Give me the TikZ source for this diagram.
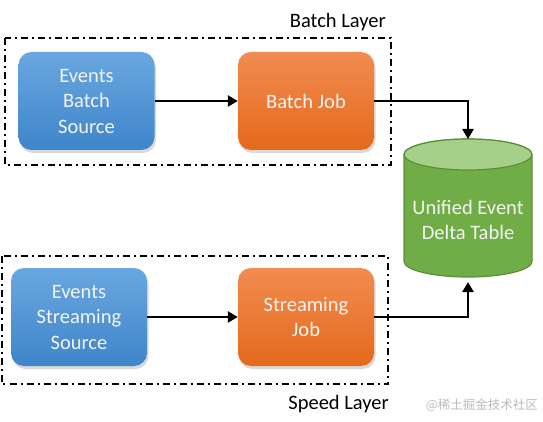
\documentclass[tikz,border=0pt]{standalone}
\usepackage{fontspec}
\setmainfont{Carlito}
\newfontfamily\cjkfont{Noto Sans CJK SC}
\usetikzlibrary{arrows.meta,shadows}
\definecolor{bluetop}{HTML}{6AA7E0}
\definecolor{bluebot}{HTML}{3E85CA}
\definecolor{orangetop}{HTML}{F28C50}
\definecolor{orangebot}{HTML}{E4691C}
\definecolor{greenbody}{HTML}{70AD47}
\definecolor{greentop}{HTML}{A6CF8A}
\definecolor{greenedge}{HTML}{5A8F37}
\definecolor{boxtext}{HTML}{F4F4F4}
\begin{document}
\begin{tikzpicture}[x=1pt,y=-1pt,
  layerbox/.style={line width=2pt,dash pattern=on 7pt off 4pt on 2pt off 4pt},
  procbox/.style={rounded corners=13pt,minimum width=136pt,minimum height=98pt,
    inner sep=0pt,align=center,text=boxtext,
    font=\fontsize{20.5}{25.5}\selectfont,
    drop shadow={opacity=0.3,shadow xshift=1.5pt,shadow yshift=-3pt}},
  srcbox/.style={procbox,top color=bluetop,bottom color=bluebot},
  jobbox/.style={procbox,top color=orangetop,bottom color=orangebot},
  flow/.style={line width=2.8pt,-{Triangle[length=10pt,width=11pt]}},
  lbl/.style={font=\fontsize{20.5}{24}\selectfont,inner sep=0pt}
]
\useasboundingbox (0,0) rectangle (543,422);

% layer frames
\draw[layerbox] (5,38) rectangle (391,165);
\draw[layerbox] (1.5,256) rectangle (388,384);
\node[lbl,anchor=east] (batchlbl) at (386,22) {Batch Layer};
\node[lbl,anchor=east] (speedlbl) at (389,404) {Speed Layer};

% boxes
\node[srcbox] (src1) at (86.5,101) {Events\\Batch\\Source};
\node[jobbox] (job1) at (306,101) {Batch Job};
\node[srcbox] (src2) at (79,317) {Events\\Streaming\\Source};
\node[jobbox] (job2) at (306,317) {Streaming\\Job};

% cylinder
\fill[greenbody,draw=greenedge,line width=1.2pt]
  (404,154.5) -- (404,261.5)
  arc[start angle=180,end angle=360,x radius=64pt,y radius=15.5pt]
  -- (532,154.5)
  arc[start angle=0,end angle=180,x radius=64pt,y radius=15.5pt] -- cycle;
\filldraw[fill=greentop,draw=greenedge,line width=1.2pt]
  (468,154.5) ellipse[x radius=64pt,y radius=15.5pt];
\node[inner sep=0pt,minimum width=128pt,minimum height=138pt,align=center,
  text=boxtext,font=\fontsize{20.5}{25}\selectfont] (db) at (468,219.5)
  {Unified Event\\Delta Table};
\coordinate (dbtop) at (468,139);
\coordinate (dbbot) at (468,282);

% connectors
\draw[flow] (src1.east) -- (job1.west);
\draw[flow] (job1.east) -| (dbtop);
\draw[flow] (src2.east) -- (job2.west |- src2.east);
\draw[flow] (job2.east) -| (dbbot);

% watermark
\node[inner sep=0pt,anchor=east,text=black!27,font=\cjkfont\fontsize{12.5}{14}\selectfont]
  (wm) at (538,405) {@稀土掘金技术社区};
\end{tikzpicture}
\end{document}
